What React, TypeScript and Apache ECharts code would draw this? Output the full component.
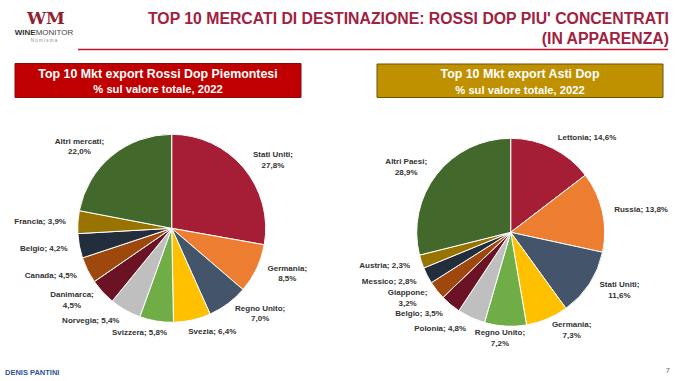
import React, { useEffect, useRef } from 'react';
import * as echarts from 'echarts';

const leftNames = ['Stati Uniti', 'Germania', 'Regno Unito', 'Svezia', 'Svizzera', 'Norvegia', 'Danimarca', 'Canada', 'Belgio', 'Francia', 'Altri mercati'];
const leftValues = [27.8, 8.5, 7.0, 6.4, 5.8, 5.4, 4.5, 4.5, 4.2, 3.9, 22.0];
const leftWrapped = ['Stati Uniti', 'Germania', 'Regno Unito', 'Danimarca', 'Altri mercati'];

const rightNames = ['Lettonia', 'Russia', 'Stati Uniti', 'Germania', 'Regno Unito', 'Polonia', 'Belgio', 'Giappone', 'Messico', 'Austria', 'Altri Paesi'];
const rightValues = [14.6, 13.8, 11.6, 7.3, 7.2, 4.8, 3.5, 3.2, 2.8, 2.3, 28.9];
const rightWrapped = ['Stati Uniti', 'Germania', 'Regno Unito', 'Giappone', 'Altri Paesi'];

const sliceColors = ['#A51E36', '#ED7D31', '#44546A', '#FFC000', '#70AD47', '#BFBFBF', '#6B1324', '#9E480E', '#232E3D', '#997300', '#43682B'];

const mainTitle1 = "TOP 10 MERCATI DI DESTINAZIONE: ROSSI DOP PIU' CONCENTRATI";
const mainTitle2 = '(IN APPARENZA)';
const leftHeader1 = 'Top 10 Mkt export Rossi Dop Piemontesi';
const rightHeader1 = 'Top 10 Mkt export Asti Dop';
const header2 = '% sul valore totale, 2022';

const LABEL_FONT = "'Liberation Sans', Arial, sans-serif";

function fmt(v: number) {
  return v.toFixed(1).replace('.', ',') + '%';
}

function makeLabelLayout(cx: number, cy: number) {
  return (params: any) => {
    const r = params.labelRect;
    const side = params.align || (r.x + r.width / 2 > cx ? 'left' : 'right');
    const ax = side === 'left' ? r.x : side === 'right' ? r.x + r.width : r.x + r.width / 2;
    const ay = r.y + r.height / 2;
    const dx = ax - cx;
    const dy = ay - cy;
    const len = Math.hypot(dx, dy) || 1;
    const ux = dx / len;
    const f = Math.min(1, Math.abs(ux) / 0.3);
    const x = ax + Math.sign(ux) * (r.width / 2) * f;
    return { x, y: ay, align: 'center', verticalAlign: 'middle' };
  };
}

function pieSeries(names: string[], values: number[], wrapped: string[], cx: number, cy: number) {
  return {
    type: 'pie',
    center: [cx, cy],
    radius: 94,
    startAngle: 90,
    clockwise: true,
    avoidLabelOverlap: false,
    silent: true,
    data: names.map((n, i) => ({ name: n, value: values[i], itemStyle: { color: sliceColors[i] } })),
    itemStyle: { borderColor: '#ffffff', borderWidth: 1 },
    label: {
      show: true,
      position: 'outside',
      distanceToLabelLine: 0,
      fontSize: 8,
      fontWeight: 'bold',
      fontFamily: LABEL_FONT,
      color: '#333333',
      lineHeight: 10.5,
      formatter: (p: any) => {
        const sep = wrapped.indexOf(p.name) >= 0 ? ';\n' : '; ';
        return p.name + sep + fmt(p.value);
      },
    },
    labelLine: { show: false, length: 12, length2: 0 },
    labelLayout: makeLabelLayout(cx, cy),
  };
}

export default function App() {
  const ref = useRef<HTMLDivElement>(null);
  useEffect(() => {
    document.body.style.margin = '0';
    const chart = echarts.init(ref.current!, null, { renderer: 'svg' });
    chart.setOption({
      animation: false,
      backgroundColor: '#ffffff',
      series: [
        pieSeries(leftNames, leftValues, leftWrapped, 171.7, 228.3),
        pieSeries(rightNames, rightValues, rightWrapped, 510.7, 232.3),
      ],
      graphic: [
        // logo
        {
          type: 'text', left: 27, top: 9,
          style: { text: 'WM', fontFamily: "'DejaVu Serif', serif", fontWeight: 'bold', fontSize: 17, fill: '#8E2233' },
        },
        {
          type: 'text', x: 44, y: 32,
          style: {
            text: '{b|WINE}{n|MONITOR}', align: 'center', verticalAlign: 'middle',
            rich: {
              b: { fontFamily: LABEL_FONT, fontWeight: 'bold', fontSize: 8, fill: '#333333' },
              n: { fontFamily: LABEL_FONT, fontSize: 8, fill: '#444444' },
            },
          },
        },
        {
          type: 'text', x: 44, y: 40,
          style: { text: 'N o m i s m a', align: 'center', verticalAlign: 'middle', fontFamily: LABEL_FONT, fontSize: 4.5, fill: '#888888' },
        },
        // main title
        {
          type: 'text', x: 669, y: 18,
          style: { text: mainTitle1, align: 'right', verticalAlign: 'middle', fontFamily: LABEL_FONT, fontWeight: 'bold', fontSize: 15.8, fill: '#A0223F' },
        },
        {
          type: 'text', x: 669, y: 38,
          style: { text: mainTitle2, align: 'right', verticalAlign: 'middle', fontFamily: LABEL_FONT, fontWeight: 'bold', fontSize: 15.8, fill: '#A0223F' },
        },
        {
          type: 'line', shape: { x1: 78, y1: 49.5, x2: 668, y2: 49.5 },
          style: { stroke: '#C8102E', lineWidth: 1.5 },
        },
        // left header
        {
          type: 'rect', shape: { x: 15, y: 63.5, width: 286, height: 34 },
          style: { fill: '#C00000', stroke: '#8A0A0A', lineWidth: 1 },
        },
        {
          type: 'text', x: 158, y: 73.5,
          style: { text: leftHeader1, align: 'center', verticalAlign: 'middle', fontFamily: LABEL_FONT, fontWeight: 'bold', fontSize: 12.4, fill: '#ffffff' },
        },
        {
          type: 'text', x: 158, y: 89,
          style: { text: header2, align: 'center', verticalAlign: 'middle', fontFamily: LABEL_FONT, fontWeight: 'bold', fontSize: 11.2, fill: '#ffffff' },
        },
        // right header
        {
          type: 'rect', shape: { x: 377, y: 64, width: 286, height: 33.5 },
          style: { fill: '#BF9000', stroke: '#6E5500', lineWidth: 1 },
        },
        {
          type: 'text', x: 520, y: 74,
          style: { text: rightHeader1, align: 'center', verticalAlign: 'middle', fontFamily: LABEL_FONT, fontWeight: 'bold', fontSize: 12.4, fill: '#ffffff' },
        },
        {
          type: 'text', x: 520, y: 89.5,
          style: { text: header2, align: 'center', verticalAlign: 'middle', fontFamily: LABEL_FONT, fontWeight: 'bold', fontSize: 11.2, fill: '#ffffff' },
        },
        // footer
        {
          type: 'text', x: 5, y: 372,
          style: { text: 'DENIS PANTINI', align: 'left', verticalAlign: 'middle', fontFamily: LABEL_FONT, fontWeight: 'bold', fontSize: 7.5, fill: '#2F5496' },
        },
        {
          type: 'text', x: 670, y: 370.5,
          style: { text: '7', align: 'right', verticalAlign: 'middle', fontFamily: LABEL_FONT, fontSize: 7.5, fill: '#666666' },
        },
      ],
    });
    return () => chart.dispose();
  }, []);
  return <div ref={ref} style={{ width: 678, height: 381 }} />;
}
